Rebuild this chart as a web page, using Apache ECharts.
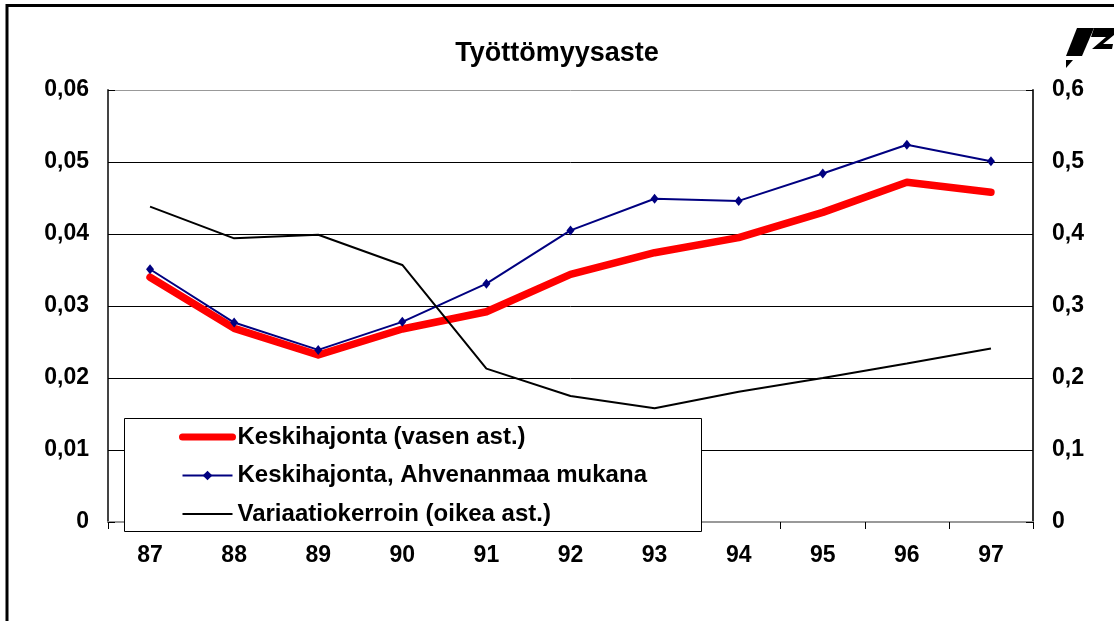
<!DOCTYPE html>
<html>
<head>
<meta charset="utf-8">
<script src="https://cdn.jsdelivr.net/npm/echarts@6/dist/echarts.min.js"></script>
<style>
  html, body { margin: 0; padding: 0; background: #fff; }
  #main { width: 1114px; height: 621px; }
</style>
</head>
<body>
<div id="main"></div>
<script>
// vuodet
const years = ['87', '88', '89', '90', '91', '92', '93', '94', '95', '96', '97']
// Keskihajonta (vasen ast.)
const hajonta = [0.0340, 0.0269, 0.0232, 0.0268, 0.0292, 0.0344, 0.0374, 0.0395, 0.0430, 0.0472, 0.0458]
// Keskihajonta, Ahvenanmaa mukana
const hajontaAhv = [0.0351, 0.0277, 0.0239, 0.0278, 0.0331, 0.0405, 0.0449, 0.0446, 0.0484, 0.0524, 0.0501]
// Variaatiokerroin (oikea ast.)
const variaatio = [0.438, 0.394, 0.399, 0.357, 0.213, 0.175, 0.158, 0.181, 0.200, 0.220, 0.241]

const names = ['Keskihajonta (vasen ast.)', 'Keskihajonta, Ahvenanmaa mukana', 'Variaatiokerroin (oikea ast.)']

const font = "'Liberation Sans', Arial, sans-serif"
const txt = {color: '#000', fontFamily: font, fontWeight: 'bold', fontSize: 23}

function fmt(dec){
  return v => v === 0 ? '0' : v.toFixed(dec).replace('.', ',')
}

let chart = echarts.init(document.getElementById('main'))
chart.setOption({
  animation: false,
  backgroundColor: '#fff',
  title: {
    text: 'Työttömyysaste',
    left: 'center',
    top: 40,
    padding: 0,
    textStyle: {color: '#000', fontFamily: font, fontWeight: 'bold', fontSize: 27}
  },
  grid: {left: 108, right: 81, top: 90, bottom: 99},
  legend: {
    data: [
      {name: names[0], lineStyle: {width: 7, cap: 'round'}, itemStyle: {opacity: 0}},
      {name: names[1], lineStyle: {width: 2}},
      {name: names[2], lineStyle: {width: 2}, itemStyle: {opacity: 0}}
    ],
    orient: 'vertical',
    left: 179,
    top: 425,
    padding: 0,
    itemWidth: 50,
    itemHeight: 12,
    itemGap: 14.5,
    z: 120,
    selectedMode: false,
    textStyle: Object.assign({}, txt, {fontSize: 24, lineHeight: 24})
  },
  xAxis: [{
    type: 'category',
    data: years,
    axisLine: {lineStyle: {color: '#333', width: 2}},
    axisTick: {show: true, inside: false, length: 7, lineStyle: {color: '#000'}},
    axisLabel: Object.assign({margin: 22}, txt),
    splitLine: {show: false}
  }, {
    type: 'category',
    data: years,
    position: 'top',
    axisLine: {lineStyle: {color: '#999', width: 2}},
    axisTick: {show: false},
    axisLabel: {show: false}
  }],
  yAxis: [{
    type: 'value',
    min: 0, max: 0.06, interval: 0.01,
    axisLine: {show: true, lineStyle: {color: '#444', width: 2}},
    axisTick: {show: true, inside: true, length: 7, lineStyle: {color: '#000'}},
    axisLabel: Object.assign({margin: 19, formatter: fmt(2)}, txt),
    splitLine: {show: true, lineStyle: {color: ['#000', '#000', '#000', '#000', '#000', '#000', '#999'], width: 1}}
  }, {
    type: 'value',
    min: 0, max: 0.6, interval: 0.1,
    axisLine: {show: true, lineStyle: {color: '#333', width: 2}},
    axisTick: {show: true, inside: true, length: 7, lineStyle: {color: '#000'}},
    axisLabel: Object.assign({margin: 19, formatter: fmt(1)}, txt),
    splitLine: {show: false}
  }],
  series: [{
    name: names[0],
    type: 'line',
    data: hajonta,
    symbol: 'none',
    lineStyle: {color: '#ff0000', width: 7.5, cap: 'round', join: 'round'},
    itemStyle: {color: '#ff0000'}
  }, {
    name: names[1],
    type: 'line',
    data: hajontaAhv,
    symbol: 'diamond',
    symbolSize: [8, 10],
    lineStyle: {color: '#000080', width: 2},
    itemStyle: {color: '#000080'}
  }, {
    name: names[2],
    type: 'line',
    yAxisIndex: 1,
    data: variaatio,
    symbol: 'none',
    lineStyle: {color: '#000', width: 2},
    itemStyle: {color: '#000'}
  }],
  graphic: [
    // legendin laatikko
    {type: 'rect', z: 100, shape: {x: 124.5, y: 418.5, width: 577, height: 113},
      style: {fill: '#fff', stroke: '#000', lineWidth: 1}},
    // kehys
    {type: 'polyline', z: 100, shape: {points: [[7, 621], [7, 5.5], [1114, 5.5]]},
      style: {stroke: '#000', lineWidth: 3, fill: null}},
    // logo
    {type: 'polygon', z: 100, shape: {points: [[1077, 28], [1094, 28], [1082, 56], [1066, 56]]}, style: {fill: '#000'}},
    {type: 'polygon', z: 100, shape: {points: [[1094, 28], [1114, 28], [1114, 35], [1103, 44], [1113, 44], [1112, 49], [1092, 49], [1106, 37], [1091, 37]]}, style: {fill: '#000'}},
    {type: 'polygon', z: 100, shape: {points: [[1066, 60], [1073, 60], [1066, 68]]}, style: {fill: '#000'}}
  ]
})
</script>
</body>
</html>
